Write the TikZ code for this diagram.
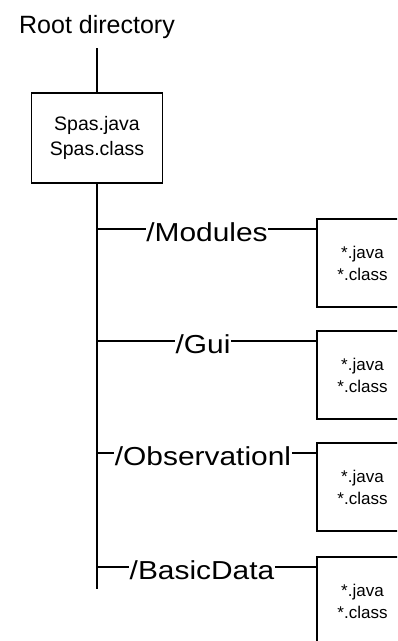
\documentclass[tikz,border=0pt]{standalone}
\usepackage{fontspec}
\setmainfont{Liberation Sans}
\newfontfamily\dirfont[FakeStretch=1.15]{Liberation Sans}
\usepackage{tikz}
\usetikzlibrary{positioning}
\tikzstyle{srcbox} = [rectangle, draw=black, line width=1.1pt, align=center, text centered]
\tikzstyle{dirlabel} = [inner xsep=0.5pt, inner ysep=0pt, anchor=base, font=\dirfont\fontsize{26}{28}\selectfont]
\tikzstyle{link} = [line width=1.2pt]

\begin{document}
\begin{tikzpicture}[x=1pt, y=-1pt]

    % Frame
    \clip (0,0) rectangle (397,641);

    % Nodes
    \node (root) [anchor=base, inner sep=0pt, font=\fontsize{25}{28}\selectfont] at (97,33) {Root directory};
    \node (spas) [srcbox, minimum width=131pt, minimum height=90pt, font=\fontsize{19.5}{25}\selectfont] at (97,138) {\raisebox{-5pt}{\begin{tabular}{@{}c@{}}Spas.java\\Spas.class\end{tabular}}};

    \node (modules) [dirlabel] at (207,241) {/Modules};
    \node (gui) [dirlabel] at (203,353) {/Gui};
    \node (observ) [dirlabel] at (203,465) {/Observationl};
    \node (basic) [dirlabel] at (202,579) {/BasicData};

    \node (fmodules) [srcbox, minimum width=91pt, minimum height=88pt, font=\fontsize{17}{22}\selectfont] at (362.5,263) {*.java\\*.class};
    \node (fgui) [srcbox, minimum width=91pt, minimum height=88pt, font=\fontsize{17}{22}\selectfont] at (362.5,375) {*.java\\*.class};
    \node (fobserv) [srcbox, minimum width=91pt, minimum height=88pt, font=\fontsize{17}{22}\selectfont] at (362.5,487) {*.java\\*.class};
    \node (fbasic) [srcbox, minimum width=91pt, minimum height=88pt, font=\fontsize{17}{22}\selectfont] at (362.5,601) {*.java\\*.class};

    % Trunk
    \coordinate (rootend) at (97,48);
    \coordinate (trunkend) at (97,589);
    \coordinate (jmodules) at (97,229);
    \coordinate (jgui) at (97,341);
    \coordinate (jobserv) at (97,453);
    \coordinate (jbasic) at (97,567);

    \draw [link] (rootend) -- (spas);
    \draw [link] (spas) -- (trunkend);

    % Branches
    \draw [link] (jmodules) -- (modules.west |- jmodules);
    \draw [link] (modules.east |- jmodules) -- (fmodules.west |- jmodules);
    \draw [link] (jgui) -- (gui.west |- jgui);
    \draw [link] (gui.east |- jgui) -- (fgui.west |- jgui);
    \draw [link] (jobserv) -- (observ.west |- jobserv);
    \draw [link] (observ.east |- jobserv) -- (fobserv.west |- jobserv);
    \draw [link] (jbasic) -- (basic.west |- jbasic);
    \draw [link] (basic.east |- jbasic) -- (fbasic.west |- jbasic);

\end{tikzpicture}
\end{document}
